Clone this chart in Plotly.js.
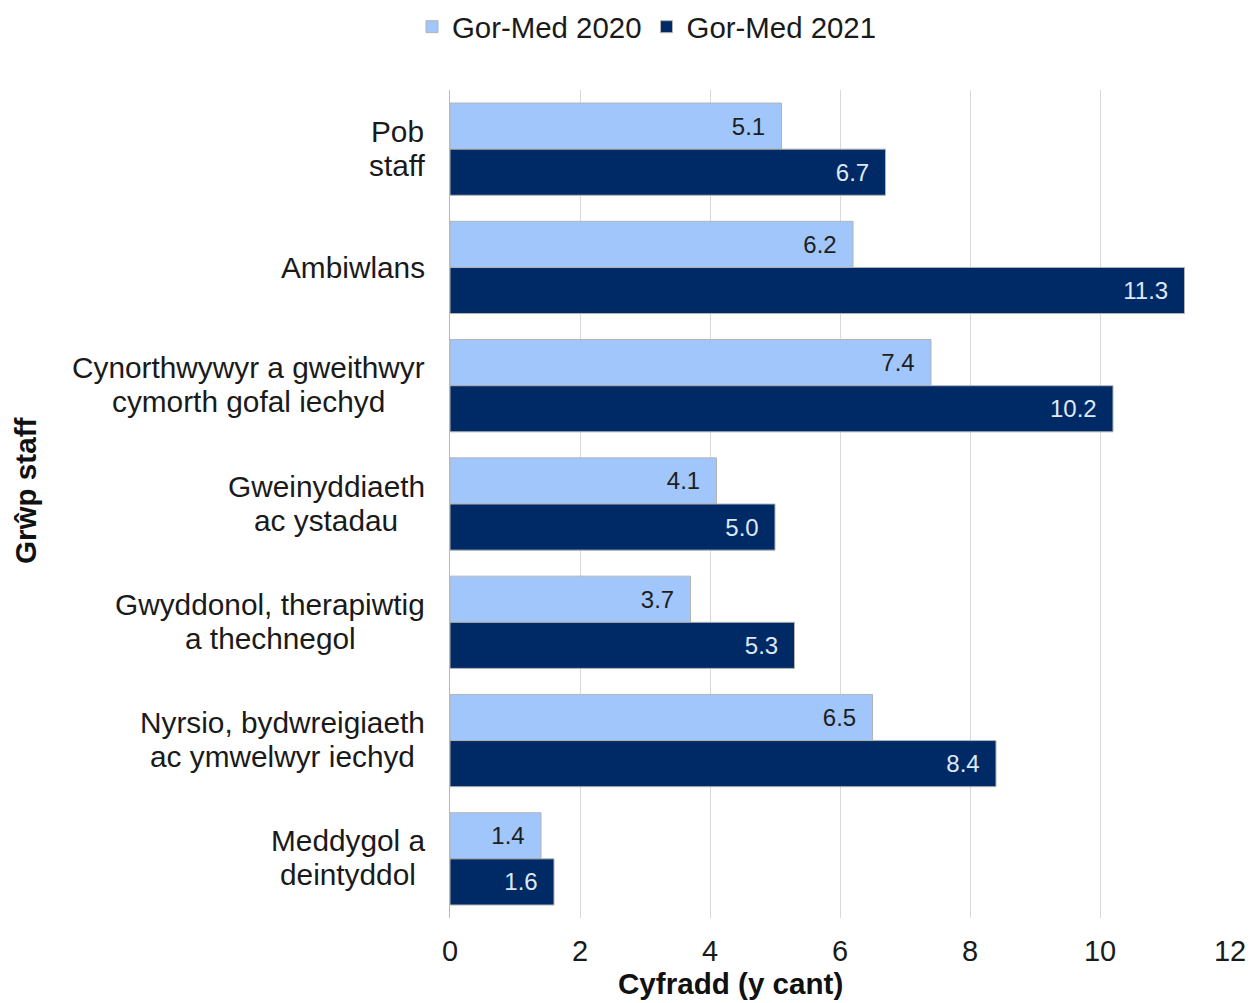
<!DOCTYPE html>
<html>
<head>
<meta charset="utf-8">
<script src="https://cdn.plot.ly/plotly-3.0.1.min.js"></script>
<style>html,body{margin:0;padding:0;background:#fff;}#chart{width:1258px;height:1003px;}</style>
</head>
<body>
<div id="chart"></div>
<script>
const categories = ['Pob<br>staff', 'Ambiwlans', 'Cynorthwywyr a gweithwyr<br>cymorth gofal iechyd', 'Gweinyddiaeth<br>ac ystadau', 'Gwyddonol, therapiwtig<br>a thechnegol', 'Nyrsio, bydwreigiaeth<br>ac ymwelwyr iechyd', 'Meddygol a<br>deintyddol'];
const series2020 = [5.1, 6.2, 7.4, 4.1, 3.7, 6.5, 1.4];
const series2021 = [6.7, 11.3, 10.2, 5.0, 5.3, 8.4, 1.6];
const seriesNames = ['Gor-Med 2020', 'Gor-Med 2021'];
const xTicks = [0, 2, 4, 6, 8, 10, 12];
const xTitle = 'Cyfradd (y cant)';
const yTitle = 'Grŵp staff';

const FONT = 'Liberation Sans, Arial, sans-serif';
const NB = '\u00a0\u00a0';

const traces = [
  {
    type: 'bar', orientation: 'h', name: seriesNames[0],
    y: categories, x: series2020,
    marker: {color: '#a0c6fb', line: {color: '#b4b4b4', width: 1}},
    texttemplate: '%{x:.1f}' + NB, textposition: 'inside', insidetextanchor: 'end',
    insidetextfont: {family: FONT, size: 24, color: '#1e1e1e'},
    hoverinfo: 'x+y', cliponaxis: false
  },
  {
    type: 'bar', orientation: 'h', name: seriesNames[1],
    y: categories, x: series2021,
    marker: {color: '#002a66', line: {color: '#b4b4b4', width: 1}},
    texttemplate: '%{x:.1f}' + NB, textposition: 'inside', insidetextanchor: 'end',
    insidetextfont: {family: FONT, size: 24, color: '#dfe8f6'},
    hoverinfo: 'x+y', cliponaxis: false
  }
];

const annotations = [];
categories.forEach(c => {
  const lines = c.split('<br>');
  const n = lines.length;
  lines.forEach((ln, i) => {
    annotations.push({
      xref: 'paper', yref: 'y', x: 0, y: c, xanchor: 'center', yanchor: 'middle',
      xshift: 0, yshift: -((i - (n - 1) / 2) * 34) + (n > 1 ? 1 : 0),
      text: ln, showarrow: false,
      font: {family: FONT, size: 29.8, color: '#1a1a1a'},
      _block: c
    });
  });
});

annotations.push({
  xref: 'paper', yref: 'paper', x: (730 - 450) / 780, y: (918 - 984) / 828,
  xanchor: 'center', yanchor: 'middle', text: '<b>' + xTitle + '</b>', showarrow: false,
  font: {family: FONT, size: 29.6, color: '#111'}
});
annotations.push({
  xref: 'paper', yref: 'paper', x: (25 - 450) / 780, y: (918 - 491) / 828,
  xanchor: 'center', yanchor: 'middle', textangle: -90, text: '<b>' + yTitle + '</b>', showarrow: false,
  font: {family: FONT, size: 29.6, color: '#111'}
});

// centre each multi-line label block so its right edge sits at 425px
const cv = document.createElement('canvas').getContext('2d');
cv.font = '29.8px "Liberation Sans", Arial, sans-serif';
categories.forEach(c => {
  const lines = c.split('<br>');
  const w = Math.max(...lines.map(l => cv.measureText(l).width));
  const centre = 425 - w / 2;
  annotations.forEach(a => {
    if (a._block === c) { a.xshift = centre - 450; }
  });
});
annotations.forEach(a => { delete a._block; });

const layout = {
  width: 1258, height: 1003,
  margin: {l: 450, r: 28, t: 90, b: 85, autoexpand: false},
  paper_bgcolor: '#fff', plot_bgcolor: '#fff',
  font: {family: FONT, size: 29, color: '#1a1a1a'},
  barmode: 'group', bargap: 0.22, bargroupgap: 0,
  showlegend: true,
  legend: {
    orientation: 'h', x: (647 - 450) / 780, xanchor: 'center', y: 1.076, yanchor: 'middle',
    font: {family: FONT, size: 29.4, color: '#1a1a1a'}, traceorder: 'normal',
    itemwidth: 30, tracegroupgap: 0
  },
  xaxis: {
    range: [0, 12], tickvals: xTicks, ticktext: xTicks.map(String),
    showgrid: true, gridcolor: '#d9d9d9', gridwidth: 1,
    zeroline: false, showline: false,
    ticks: 'outside', ticklen: 7, tickcolor: 'rgba(0,0,0,0)',
    tickfont: {family: FONT, size: 29, color: '#1a1a1a'}, fixedrange: true
  },
  yaxis: {
    categoryorder: 'array', categoryarray: categories, autorange: 'reversed',
    showticklabels: false, showgrid: false, zeroline: false,
    showline: true, linecolor: '#b8b8b8', linewidth: 1, ticks: '', fixedrange: true
  },
  annotations: annotations
};

Plotly.newPlot('chart', traces, layout, {displayModeBar: false, staticPlot: true});
</script>
</body>
</html>
